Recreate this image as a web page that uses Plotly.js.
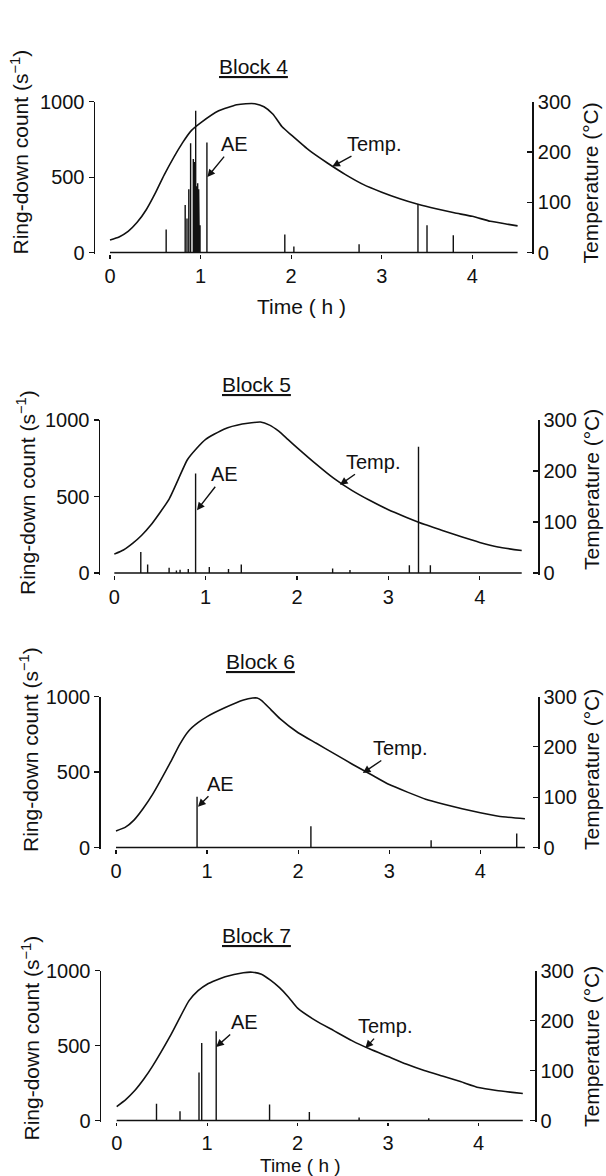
<!DOCTYPE html>
<html><head><meta charset="utf-8">
<script src="https://cdn.plot.ly/plotly-3.0.1.min.js"></script>
<style>html,body{margin:0;padding:0;background:#fff}#chart{width:606px;height:1176px}</style>
</head><body><div id="chart"></div>
<script>
// ---------------- DATA ----------------
const blockNames = ['Block 4', 'Block 5', 'Block 6', 'Block 7'];
const timeTicks = [0, 1, 2, 3, 4];
const countTicks = [0, 500, 1000];
const tempTicks = [0, 100, 200, 300];
const timeStart = [0, 0, 0, 0];
const timeEnd = [4.5, 4.46, 4.49, 4.49];

// Temperature (°C) vs time (h)
const temp4Time = [0,0.1,0.2,0.3,0.4,0.5,0.6,0.8,0.9,1.0,1.2,1.4,1.5,1.6,1.7,1.8,1.9,2.0,2.2,2.4,2.6,2.8,3.0,3.2,3.4,3.6,3.8,4.0,4.2,4.4,4.5];
const temp4Value = [25,31,42,60,85,118,155,218,243,258,282,294,296,296,290,275,250,234,203,178,155,135,120,107,96,87,79,72,62,56,53];
const temp5Time = [0,0.1,0.2,0.3,0.4,0.6,0.8,0.9,1.0,1.2,1.4,1.6,1.7,1.8,1.9,2.0,2.2,2.4,2.6,2.8,3.0,3.2,3.4,3.6,3.8,4.0,4.2,4.46];
const temp5Value = [37,45,58,74,94,145,222,244,262,282,292,296,290,278,262,246,215,186,162,142,124,109,95,83,71,60,51,44];
const temp6Time = [0,0.1,0.2,0.3,0.4,0.6,0.7,0.8,0.9,1.0,1.2,1.4,1.5,1.55,1.6,1.7,1.8,2.0,2.2,2.4,2.6,2.8,3.0,3.2,3.4,3.6,3.8,4.0,4.2,4.49];
const temp6Value = [33,40,55,78,105,170,205,232,248,260,278,293,297,297,292,274,256,228,207,186,165,145,125,110,96,86,77,69,62,57];
const temp7Time = [0,0.1,0.2,0.3,0.4,0.6,0.8,0.9,1.0,1.2,1.4,1.5,1.6,1.7,1.8,1.9,2.0,2.2,2.4,2.6,2.8,3.0,3.2,3.4,3.6,3.8,4.0,4.2,4.49];
const temp7Value = [28,42,60,83,110,172,240,260,273,288,296,297,293,281,266,247,225,200,180,160,143,128,113,100,89,78,66,60,54];

// AE ring-down count (s^-1) bursts: time (h) and count
const ae4Time = [0.62,0.83,0.85,0.87,0.89,0.92,0.935,0.946,0.957,0.968,0.979,0.986,0.994,1.07,1.93,2.03,2.75,3.40,3.50,3.79];
const ae4Count = [153,315,226,420,724,620,600,940,440,460,420,250,180,730,120,40,55,320,180,115];
const ae5Time = [0.29,0.365,0.60,0.68,0.72,0.81,0.89,1.04,1.25,1.39,2.39,2.58,3.23,3.33,3.46];
const ae5Count = [138,55,35,17,22,26,651,39,26,55,30,20,50,825,50];
const ae6Time = [0.89,2.14,3.46,4.40];
const ae6Count = [336,141,48,93];
const ae7Time = [0.44,0.70,0.91,0.94,1.10,1.69,2.13,2.68,3.45];
const ae7Count = [112,62,320,518,596,107,56,20,15];

const tempTimes = [temp4Time, temp5Time, temp6Time, temp7Time];
const tempValues = [temp4Value, temp5Value, temp6Value, temp7Value];
const aeTimes = [ae4Time, ae5Time, ae6Time, ae7Time];
const aeCounts = [ae4Count, ae5Count, ae6Count, ae7Count];

// ---------------- LAYOUT GEOMETRY (pixels) ----------------
const W = 606, H = 1176;
const geom = [
  {left:95,  right:532.3, x0:110,   x4:472.3, yTop:101.7, yBot:252.5},
  {left:100, right:538,   x0:114.3, x4:479.7, yTop:420,   yBot:573},
  {left:100.7,right:538,  x0:116,   x4:480.3, yTop:696.5, yBot:847.5},
  {left:101, right:535,   x0:116.7, x4:478.5, yTop:970.7, yBot:1120.5}
];
const titlePos = [[253,66],[256.7,385],[260,661.7],[256.7,935]];
const ringPos = [[19,152.5],[25.5,492.5],[29,750],[30,1038.5]];
const tempLabPos = [[590,183.5],[591,490],[591,770],[591,1047]];
const timeLabPos = [[301,307,21],null,null,[300,1165,19]];
const xTickLen = [4, 4, 4, 3];
// arrow annotations: tip in data coords, offset of text in px
const aeArrow = [[1.075,500,27,-33],[0.905,410,28,-36],[0.90,270,23,-23],[1.10,491,28,-25]];
const tempArrow = [[2.454,171,42,-23],[2.47,173,33,-23],[2.71,148,37,-25],[2.75,145,20,-22]];

const FONT = 'Liberation Sans, Arial, sans-serif';
const INK = '#111';
const px2x = p => p / W;
const py2y = p => 1 - p / H;
const id = (l, n) => n === 1 ? l : l + n;
const key = (l, n) => l + 'axis' + (n === 1 ? '' : n);

const traces = [];
const layout = {
  width: W, height: H,
  margin: {l:0, r:0, t:0, b:0},
  paper_bgcolor: '#fff', plot_bgcolor: 'rgba(0,0,0,0)',
  showlegend: false,
  font: {family: FONT, size: 20, color: INK},
  annotations: []
};

for (let i = 0; i < 4; i++) {
  const g = geom[i];
  const xn = i + 1, yl = 2 * i + 1, yr = 2 * i + 2;
  const ppx = (g.x4 - g.x0) / 4;
  const xRange = [(g.left - g.x0) / ppx, (g.right - g.x0) / ppx];
  const ppy = (g.yBot - g.yTop) / 1000;
  const pad = 1.5;
  const lo = -pad / ppy;
  const yDomain = [py2y(g.yBot + pad), py2y(g.yTop)];

  layout[key('x', xn)] = {
    domain: [px2x(g.left), px2x(g.right)], range: xRange, anchor: id('y', yl),
    showline: false, zeroline: false, showgrid: false,
    tickvals: timeTicks, ticktext: timeTicks.map(String),
    ticks: 'outside', ticklen: xTickLen[i], tickwidth: 1.2, tickcolor: INK,
    tickfont: {family: FONT, size: 20, color: INK}, fixedrange: true
  };
  layout[key('y', yl)] = {
    domain: yDomain, range: [lo, 1000], anchor: id('x', xn),
    showline: true, linewidth: 1.5, linecolor: INK,
    zeroline: false, showgrid: false,
    tickvals: countTicks, ticktext: countTicks.map(String),
    ticks: 'outside', ticklen: 5, tickwidth: 1.2, tickcolor: INK,
    tickfont: {family: FONT, size: 20, color: INK}, fixedrange: true
  };
  layout[key('y', yr)] = {
    overlaying: id('y', yl), side: 'right', anchor: id('x', xn),
    range: [lo * 0.3, 300],
    showline: true, linewidth: 1.5, linecolor: INK,
    zeroline: false, showgrid: false,
    tickvals: tempTicks, ticktext: tempTicks.map(String),
    ticks: 'inside', ticklen: 5, tickwidth: 1.2, tickcolor: INK,
    tickfont: {family: FONT, size: 20, color: INK}, fixedrange: true
  };

  // AE trace: baseline with vertical bursts
  const ax = [timeStart[i]], ay = [0];
  aeTimes[i].forEach((t, k) => { ax.push(t, t, t); ay.push(0, aeCounts[i][k], 0); });
  ax.push(timeEnd[i]); ay.push(0);
  traces.push({
    type: 'scatter', mode: 'lines', x: ax, y: ay,
    xaxis: id('x', xn), yaxis: id('y', yl),
    line: {color: INK, width: 1.4}, hoverinfo: 'skip', name: 'AE'
  });
  // Temperature curve
  traces.push({
    type: 'scatter', mode: 'lines', x: tempTimes[i], y: tempValues[i],
    xaxis: id('x', xn), yaxis: id('y', yr),
    line: {color: INK, width: 1.6, shape: 'spline', smoothing: 0.5},
    hoverinfo: 'skip', name: 'Temp.'
  });

  // Block title (underlined)
  layout.annotations.push({
    xref: 'paper', yref: 'paper', x: px2x(titlePos[i][0]), y: py2y(titlePos[i][1]),
    xanchor: 'center', yanchor: 'middle', showarrow: false,
    text: '<u>' + blockNames[i] + '</u>', font: {family: FONT, size: 21, color: INK}
  });
  // Left axis title
  layout.annotations.push({
    xref: 'paper', yref: 'paper', x: px2x(ringPos[i][0]), y: py2y(ringPos[i][1]),
    xanchor: 'center', yanchor: 'middle', showarrow: false, textangle: -90,
    text: 'Ring-down count (s<sup>−1</sup>)', font: {family: FONT, size: 21, color: INK}
  });
  // Right axis title
  layout.annotations.push({
    xref: 'paper', yref: 'paper', x: px2x(tempLabPos[i][0]), y: py2y(tempLabPos[i][1]),
    xanchor: 'center', yanchor: 'middle', showarrow: false, textangle: -90,
    text: 'Temperature (°C)', font: {family: FONT, size: 21, color: INK}
  });
  if (timeLabPos[i]) {
    layout.annotations.push({
      xref: 'paper', yref: 'paper', x: px2x(timeLabPos[i][0]), y: py2y(timeLabPos[i][1]),
      xanchor: 'center', yanchor: 'middle', showarrow: false,
      text: 'Time ( h )', font: {family: FONT, size: timeLabPos[i][2], color: INK}
    });
  }
  // Arrows
  const a = aeArrow[i], b = tempArrow[i];
  layout.annotations.push({
    xref: id('x', xn), yref: id('y', yl), x: a[0], y: a[1], ax: a[2], ay: a[3],
    text: 'AE', showarrow: true, arrowhead: 2, arrowsize: 1.1, arrowwidth: 1.4,
    arrowcolor: INK, standoff: 0, font: {family: FONT, size: 20, color: INK}
  });
  layout.annotations.push({
    xref: id('x', xn), yref: id('y', yr), x: b[0], y: b[1], ax: b[2], ay: b[3],
    text: 'Temp.', showarrow: true, arrowhead: 2, arrowsize: 1.1, arrowwidth: 1.4,
    arrowcolor: INK, standoff: 0, font: {family: FONT, size: 20, color: INK}
  });
}

Plotly.newPlot('chart', traces, layout, {staticPlot: true, displayModeBar: false});
</script></body></html>
